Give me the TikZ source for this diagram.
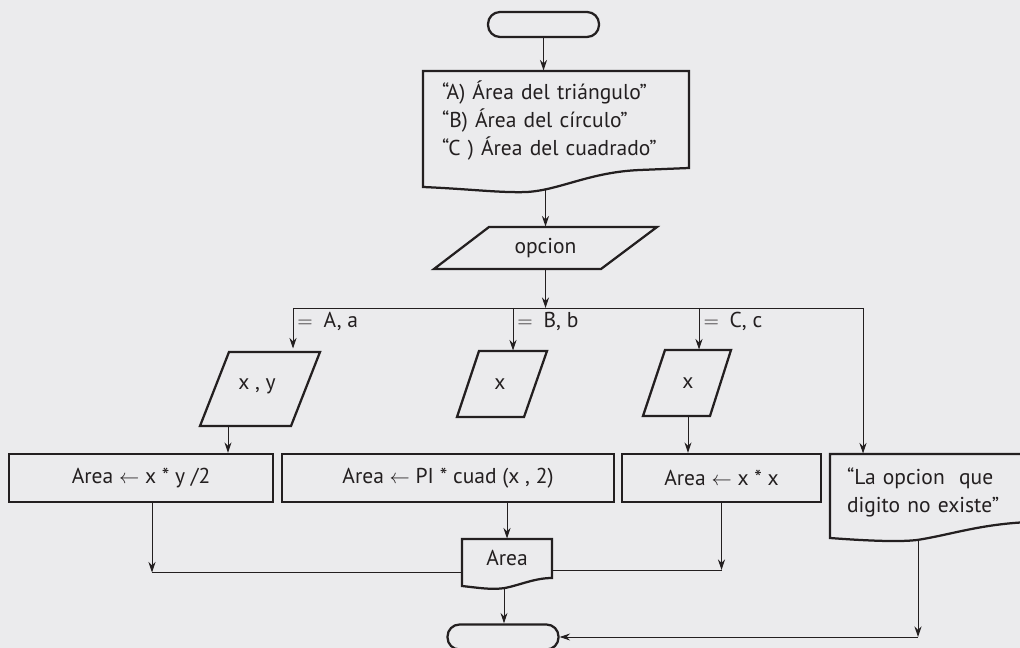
\documentclass[tikz,border=0pt]{standalone}
\usepackage{fontspec}
\setmainfont{PT Sans}
\usetikzlibrary{shapes.geometric, arrows.meta, positioning, calc}
\definecolor{flowbg}{RGB}{235,235,237}
\definecolor{flowink}{RGB}{35,31,32}
\newcommand{\pxu}{0.025cm}

\begin{document}
\begin{tikzpicture}[x=0.025cm, y=-0.025cm, color=flowink, line width=0.7pt,
    font=\fontsize{15.3}{19.9}\selectfont,
    arr/.style={-{Stealth[length=7.5pt,width=5pt]}},
    shp/.style={line width=1.6pt},
    term/.style={shp,draw,rounded corners=12*\pxu,minimum width=111*\pxu,minimum height=25*\pxu},
    proc/.style={shp,draw,minimum height=48*\pxu,inner sep=0pt},
    spot/.style={inner sep=0pt},
    lbl/.style={inner sep=4*\pxu}]

\fill[flowbg] (0,0) rectangle (1020,648);
\useasboundingbox (0,0) rectangle (1020,648);

% start / menu
\node[term] (start) at (543.5,24.5) {};
\node[spot,minimum width=266*\pxu,minimum height=99*\pxu,text width=228*\pxu,align=left] (menu) at (556,120.5)
  {``A) Área del triángulo''\\``B) Área del círculo''\\``C ) Área del cuadrado''};
\draw[shp] (689,168) -- (689,71) -- (423,71) -- (423,187)
  .. controls (470,189) and (500,193) .. (527,192)
  .. controls (560,190) and (590,172) .. (640,170) -- cycle;
\coordinate (menuout) at (545.5,190.5);

% read option
\node[spot,minimum width=223*\pxu,minimum height=42*\pxu] (opcion) at (545.5,248) {opcion};
\draw[shp] (489,227) -- (657,227) -- (601,269) -- (434,269) -- cycle;

% branches
\coordinate (fork) at (545.5,308);
\coordinate (brA) at (293,308);
\coordinate (brB) at (513,308);
\coordinate (brC) at (699,308);
\coordinate (brE) at (863,308);

\node[spot,minimum width=120*\pxu,minimum height=74*\pxu] (pA) at (257,386) {x , y};
\draw[shp] (229,352) -- (320,352) -- (291,426) -- (200,426) -- cycle;
\node[spot,minimum width=90*\pxu,minimum height=66*\pxu] (pB) at (500,384) {x};
\draw[shp] (479,351) -- (547,351) -- (524,417) -- (457,417) -- cycle;
\node[spot,minimum width=88*\pxu,minimum height=66*\pxu] (pC) at (688,383) {x};
\draw[shp] (665,350) -- (731,350) -- (710,416) -- (643,416) -- cycle;

\node[proc,minimum width=264*\pxu] (p1) at (141,478) {Area $\leftarrow$ x * y /2};
\node[proc,minimum width=332*\pxu] (p2) at (448,478) {Area $\leftarrow$ PI * cuad (x , 2)};
\node[proc,minimum width=199*\pxu] (p3) at (721.5,478) {Area $\leftarrow$ x * x};

\node[spot,minimum width=200*\pxu,minimum height=76*\pxu,text width=166*\pxu,align=left] (err) at (930,492)
  {``La opcion~ que\\digito no existe''};
\draw[shp] (1030,454) -- (830,454) -- (830,538)
  .. controls (870,541) and (900,542) .. (917,540)
  .. controls (950,535) and (980,524) .. (1030,522);
\coordinate (errout) at (918,540);

% output and end
\node[spot,minimum width=90*\pxu,minimum height=38*\pxu] (area) at (507,558) {Area};
\draw[shp] (552,578) -- (552,539) -- (462,539) -- (462,586)
  .. controls (480,588) and (492,590) .. (505,588)
  .. controls (520,585) and (535,578) .. cycle;
\coordinate (areaout) at (504,589);
\node[term] (stop) at (503,637) {};

% connectors
\draw[arr] (start) -- (start |- menu.north);
\draw[arr] (menuout) -- (opcion.north);
\draw[arr] (opcion.south) -- (fork);
\draw (brA) -- (brE);
\draw[arr] (brA) -- node[lbl,pos=0,anchor=north west] {$=$\enspace A, a} (brA |- pA.north);
\draw[arr] (brB) -- node[lbl,pos=0,anchor=north west] {$=$\enspace B, b} (brB |- pB.north);
\draw[arr] (brC) -- node[lbl,pos=0,anchor=north west] {$=$\enspace C, c} (brC |- pC.north);
\draw[arr] (brE) -- (brE |- err.north);

\coordinate (outA) at (228,426);
\draw[arr] (outA) -- (outA |- p1.north);
\draw[arr] (pC.south) -- (pC.south |- p3.north);

\coordinate (j1) at (152,572.5);
\coordinate (j3) at (721.5,570);
\draw[arr] (p1.south -| j1) -- (j1);
\draw (j1) -- (area.west |- j1);
\draw[arr] (p2.south -| area.north) -- (area.north);
\draw[arr] (p3.south) -- (j3);
\draw (j3) -- (area.east |- j3);
\draw[arr] (areaout) -- (areaout |- stop.north);

\coordinate (j4) at (918,637);
\draw[arr] (errout) -- (j4);
\draw[arr] (j4) -- (stop.east);
\end{tikzpicture}
\end{document}
